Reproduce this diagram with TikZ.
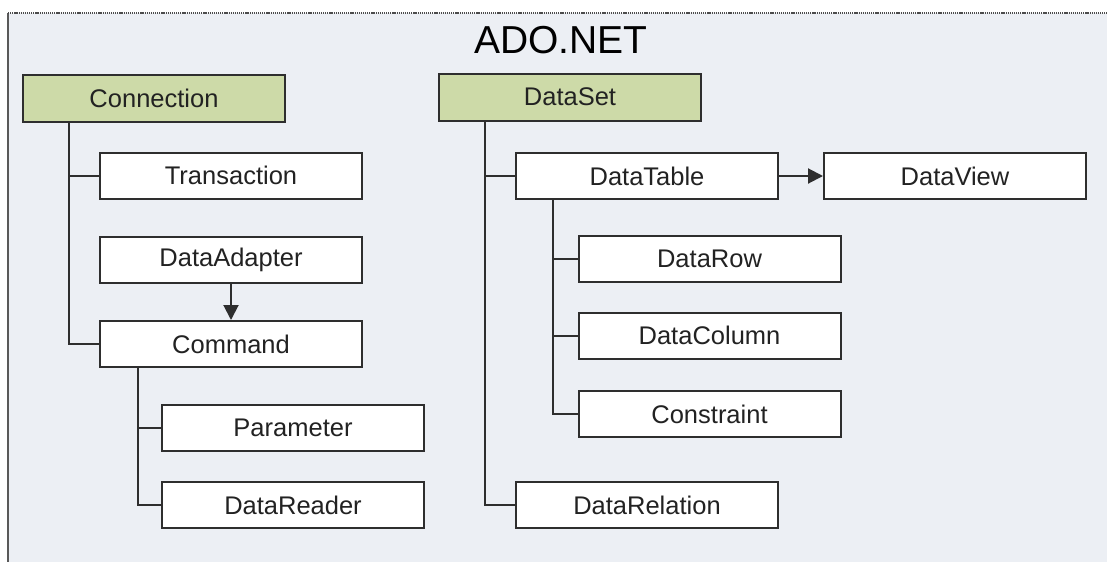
\documentclass[tikz,border=0pt]{standalone}
\usepackage{fontspec}
\setmainfont{Liberation Sans}
\usetikzlibrary{arrows.meta}
\definecolor{panelbg}{HTML}{ECEFF4}
\definecolor{rootfill}{HTML}{CDDAA8}
\definecolor{edgegray}{HTML}{2E2E2E}
\definecolor{labelink}{HTML}{222222}
\tikzset{
  item/.style={draw=edgegray, line width=2pt, fill=white,
    minimum width=262pt, minimum height=46pt, inner sep=0pt,
    text=labelink, font=\fontsize{25.5}{30}\selectfont},
  rootitem/.style={item, fill=rootfill, minimum height=47pt},
  link/.style={draw=edgegray, line width=2pt},
  flow/.style={link, -{Triangle[length=15pt,width=15pt]}}
}
\begin{document}
\begin{tikzpicture}[x=1pt,y=-1pt]
\useasboundingbox (0,0) rectangle (1107,562);
% panel
\fill[panelbg] (8,13) rectangle (1107,562);
\draw[gray!70!black, line width=1.6pt] (8,13) -- (8,562);
\draw[gray!60!black, line width=2.4pt, dash pattern=on 1.2pt off 0.9pt] (8,13) -- (1107,13);
\node[text=black, font=\fontsize{39}{44}\selectfont] (title) at (561,40) {ADO.NET};

% left tree
\node[rootitem] (conn) at (154,98.5) {Connection};
\node[item] (trans) at (231,175.5) {Transaction};
\node[item] (adapter) at (231,260) {DataAdapter};
\node[item] (cmd) at (231,344) {Command};
\node[item] (param) at (293,428) {Parameter};
\node[item] (reader) at (293,505) {DataReader};

% right tree
\node[rootitem] (dset) at (570,97) {DataSet};
\node[item] (table) at (647,176) {DataTable};
\node[item] (view) at (955,176) {DataView};
\node[item] (row) at (709.5,258.5) {DataRow};
\node[item] (col) at (709.5,335.5) {DataColumn};
\node[item] (cons) at (709.5,414) {Constraint};
\node[item] (rel) at (647,505) {DataRelation};

% connectors
\draw[link] (conn.south west) ++(47,0) coordinate (ct) |- (trans.west);
\draw[link] (ct) |- (cmd.west);
\draw[flow] (adapter.south) -- (cmd.north);
\draw[link] (cmd.south west) ++(39,0) coordinate (mt) |- (param.west);
\draw[link] (mt) |- (reader.west);

\draw[link] (dset.south west) ++(47,0) coordinate (dt) |- (table.west);
\draw[link] (dt) |- (rel.west);
\draw[flow] (table.east) -- (view.west);
\draw[link] (table.south west) ++(38,0) coordinate (tt) |- (row.west);
\draw[link] (tt) |- (col.west);
\draw[link] (tt) |- (cons.west);
\end{tikzpicture}
\end{document}
